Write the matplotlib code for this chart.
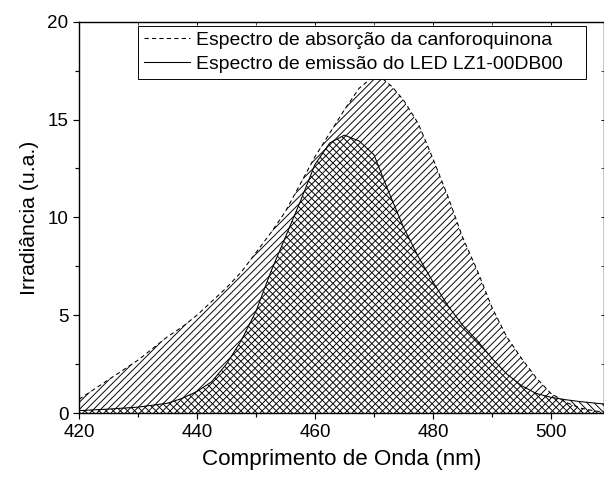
import numpy as np
import matplotlib
matplotlib.use("Agg")
import matplotlib.pyplot as plt
from matplotlib.ticker import MultipleLocator

# spectre d'absorption de la canforoquinona
abs_nm = [420, 422.5, 425, 427.5, 430, 432.5, 435, 437.5, 440, 442.5, 445, 447.5,
          450, 452.5, 455, 457.5, 460, 462.5, 465, 467.5, 469.5, 471, 473, 475,
          477.5, 480, 482.5, 485, 487.5, 490, 492.5, 495, 497.5, 500, 502.5, 505,
          507.5, 509]
abs_val = [0.7, 1.2, 1.7, 2.2, 2.7, 3.3, 3.9, 4.4, 5.0, 5.7, 6.4, 7.2,
           8.2, 9.2, 10.3, 11.7, 13.1, 14.3, 15.5, 16.6, 17.1, 17.2, 16.7, 16.0,
           14.8, 13.0, 11.1, 9.0, 7.3, 5.4, 3.9, 2.8, 1.8, 1.0, 0.55, 0.25,
           0.1, 0.05]

# spectre d'emission du LED
emi_nm = [420, 425, 430, 435, 437.5, 440, 442.5, 445, 447.5, 450, 452.5, 455,
          457.5, 460, 462.5, 465, 467.5, 470, 472.5, 475, 477.5, 480, 482.5,
          485, 487.5, 490, 492.5, 495, 497.5, 500, 502.5, 505, 509]
emi_val = [0.12, 0.2, 0.3, 0.5, 0.75, 1.1, 1.6, 2.5, 3.7, 5.2, 7.2, 9.0,
           10.8, 12.7, 13.8, 14.2, 13.9, 13.2, 11.3, 9.5, 8.0, 6.7, 5.5,
           4.5, 3.7, 2.8, 2.0, 1.4, 1.0, 0.8, 0.68, 0.58, 0.46]

plt.rcParams['font.family'] = ['Liberation Sans', 'DejaVu Sans']
plt.rcParams['hatch.color'] = 'black'
plt.rcParams['hatch.linewidth'] = 0.8

dpi = 85
fig = plt.figure(figsize=(604 / dpi, 482 / dpi), dpi=dpi)
ax = fig.add_axes([79 / 604, 1 - 413 / 482, 1 - 79 / 604, (413 - 21.7) / 482])

ax.fill_between(abs_nm, abs_val, 0, facecolor='none', edgecolor='black',
                hatch='////', linewidth=0)
ax.fill_between(emi_nm, emi_val, 0, facecolor='none', edgecolor='black',
                hatch='\\\\\\\\', linewidth=0)
ax.plot(abs_nm, abs_val, color='black', lw=0.9, ls=(0, (4, 3)),
        label='Espectro de absorção da canforoquinona')
ax.plot(emi_nm, emi_val, color='black', lw=0.9,
        label='Espectro de emissão do LED LZ1-00DB00')

ax.set_xlim(420, 509)
ax.set_ylim(0, 20)
ax.xaxis.set_major_locator(MultipleLocator(20))
ax.xaxis.set_minor_locator(MultipleLocator(10))
ax.yaxis.set_major_locator(MultipleLocator(5))
ax.yaxis.set_minor_locator(MultipleLocator(2.5))

ax.tick_params(which='both', direction='out', width=1, labelsize=16, pad=4,
               top=False, right=False)
ax.tick_params(which='major', length=5)
ax.tick_params(which='minor', length=3)

# ticks miroirs vers l'interieur en haut et a droite
axt = ax.secondary_xaxis('top')
axt.xaxis.set_major_locator(MultipleLocator(20))
axt.xaxis.set_minor_locator(MultipleLocator(10))
axt.tick_params(which='both', direction='in', length=2.5, labeltop=False)
axr = ax.secondary_yaxis('right')
axr.yaxis.set_major_locator(MultipleLocator(5))
axr.yaxis.set_minor_locator(MultipleLocator(2.5))
axr.tick_params(which='both', direction='in', length=2.5, labelright=False)

for s in ax.spines.values():
    s.set_linewidth(1.2)

ax.set_xlabel('Comprimento de Onda (nm)', fontsize=19, labelpad=7)
ax.set_ylabel('Irradiância (u.a.)', fontsize=18, labelpad=7)

leg = ax.legend(loc='upper left', bbox_to_anchor=(0.112, 0.99, 0.854, 0),
                mode='expand', fontsize=16.4,
                frameon=True, fancybox=False, edgecolor='black', framealpha=1,
                borderpad=0.3, handlelength=2.4, handletextpad=0.3,
                labelspacing=0.32, borderaxespad=0)
leg.get_frame().set_linewidth(0.8)

fig.savefig('out.png', dpi=dpi)
